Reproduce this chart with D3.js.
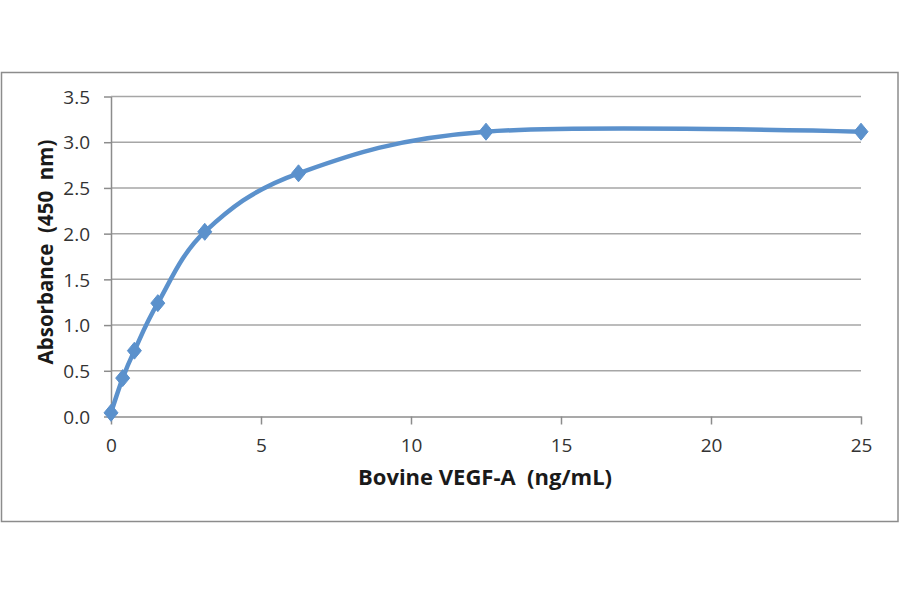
<!DOCTYPE html>
<html><head><meta charset="utf-8">
<script src="https://cdn.jsdelivr.net/npm/d3@7"></script>
<style>body{margin:0;background:#fff}svg{display:block}</style>
</head><body>
<svg id="c" width="900" height="594"></svg>
<script>
const concentrations = [0, 0.39, 0.78, 1.56, 3.125, 6.25, 12.5, 25];
const absorbance = [0.04, 0.42, 0.72, 1.24, 2.02, 2.66, 3.115, 3.115];
const xTicks = [0, 5, 10, 15, 20, 25];
const yTicks = [0, 0.5, 1, 1.5, 2, 2.5, 3, 3.5];
const xTitle = "Bovine VEGF-A\u00a0 (ng/mL)";
const yTitle = "Absorbance\u00a0 (450\u00a0 nm)";

const svg = d3.select("#c");
svg.append("rect").attr("x",1.5).attr("y",72.5).attr("width",896.5).attr("height",449)
  .attr("fill","#fff").attr("stroke","#8c8c8c").attr("stroke-width",1.5);

const x = d3.scaleLinear().domain([0,25]).range([111,861]);
const y = d3.scaleLinear().domain([0,3.5]).range([416.5,96.5]);

svg.append("g").selectAll("line").data(yTicks.filter(d=>d>0)).join("line")
  .attr("x1",x(0)).attr("x2",x(25)).attr("y1",d=>y(d)).attr("y2",d=>y(d))
  .attr("stroke","#a6a6a6").attr("stroke-width",1.5);

const fontT = "'Open Sans', sans-serif";
const gx = svg.append("g").attr("transform",`translate(0,${y(0)})`)
  .call(d3.axisBottom(x).tickValues(xTicks).tickFormat(d3.format("d")).tickSize(8).tickSizeOuter(0).tickPadding(11));
const gy = svg.append("g").attr("transform",`translate(${x(0)},0)`)
  .call(d3.axisLeft(y).tickValues(yTicks).tickFormat(d3.format(".1f")).tickSize(7).tickSizeOuter(0).tickPadding(14));
[gx,gy].forEach(g=>{
  g.select(".domain").attr("stroke","#8c8c8c").attr("stroke-width",1.5);
  g.selectAll(".tick line").attr("stroke","#8c8c8c").attr("stroke-width",1.5);
  g.selectAll(".tick text").attr("fill","#333").style("font-family",fontT).style("font-size","19px");
});
gx.selectAll(".tick text").attr("dy","0.85em");
gy.selectAll(".tick text").attr("dy","0.35em");

const pts = concentrations.map((c,i)=>[c,absorbance[i]]);
const line = d3.line().x(d=>x(d[0])).y(d=>y(d[1])).curve(d3.curveCardinal.tension(0));
svg.append("path").attr("d",line(pts)).attr("fill","none")
  .attr("stroke","#5b91cc").attr("stroke-width",4.5).attr("stroke-linejoin","round");

svg.append("g").selectAll("path").data(pts).join("path")
  .attr("transform",d=>`translate(${x(d[0])},${y(d[1])})`)
  .attr("d","M0,-8.5L7,0L0,8.5L-7,0Z")
  .attr("fill","#5b91cc").attr("stroke","#5b91cc").attr("stroke-width",1);

svg.append("text").attr("x",485).attr("y",485).attr("text-anchor","middle")
  .style("font-family",fontT).style("font-weight","bold").style("font-size","22px")
  .attr("fill","#1a1a1a").text(xTitle);
svg.append("text").attr("transform","translate(53,252) rotate(-90)").attr("text-anchor","middle")
  .style("font-family",fontT).style("font-weight","bold").style("font-size","20.5px")
  .attr("fill","#1a1a1a").text(yTitle);
</script>
</body></html>
